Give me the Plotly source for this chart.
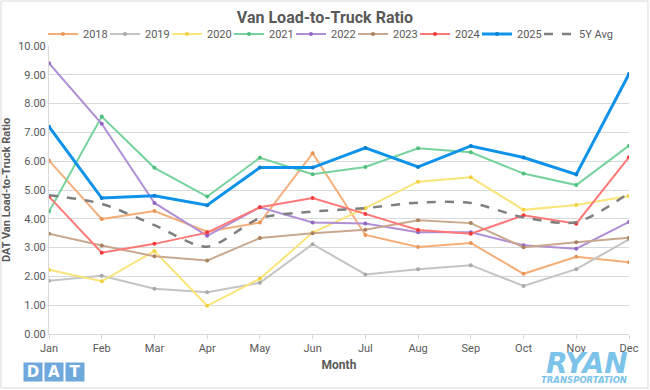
import plotly.graph_objects as go

months = ["Jan", "Feb", "Mar", "Apr", "May", "Jun", "Jul", "Aug", "Sep", "Oct", "Nov", "Dec"]

y2018 = [6.02, 3.99, 4.27, 3.55, 3.87, 6.28, 3.44, 3.02, 3.16, 2.09, 2.68, 2.49]
y2019 = [1.85, 2.02, 1.57, 1.45, 1.78, 3.12, 2.07, 2.25, 2.39, 1.67, 2.25, 3.29]
y2020 = [2.23, 1.83, 2.88, 0.98, 1.92, 3.52, 4.37, 5.29, 5.44, 4.31, 4.48, 4.79]
y2021 = [4.25, 7.55, 5.77, 4.77, 6.12, 5.55, 5.80, 6.45, 6.31, 5.57, 5.17, 6.54]
y2022 = [9.40, 7.30, 4.55, 3.41, 4.40, 3.87, 3.84, 3.53, 3.53, 3.08, 2.96, 3.89]
y2023 = [3.48, 3.07, 2.70, 2.55, 3.33, 3.50, 3.62, 3.95, 3.85, 3.01, 3.19, 3.34]
y2024 = [4.77, 2.82, 3.13, 3.52, 4.40, 4.72, 4.17, 3.61, 3.48, 4.12, 3.83, 6.14]
y2025 = [7.20, 4.72, 4.80, 4.47, 5.78, 5.78, 6.46, 5.80, 6.53, 6.13, 5.54, 9.03]
avg5y = [4.82, 4.52, 3.78, 3.03, 4.02, 4.25, 4.37, 4.56, 4.55, 4.05, 3.88, 4.90]

series = [
    ("2018", y2018, "#f6ae78", "#e8955a", 2),
    ("2019", y2019, "#c4c4c4", "#a8a8a8", 2),
    ("2020", y2020, "#fbe479", "#f2d040", 2),
    ("2021", y2021, "#77d39d", "#4fbf7f", 2),
    ("2022", y2022, "#b08fd6", "#9066c4", 2),
    ("2023", y2023, "#c9a88e", "#a9825f", 2),
    ("2024", y2024, "#ff7878", "#f03c3c", 2),
    ("2025", y2025, "#0f93ea", "#0a7fd0", 3),
]

FONT = "Roboto, sans-serif"
GRAY = "#595959"

fig = go.Figure()
for name, ys, col, mcol, w in series:
    fig.add_trace(go.Scatter(
        x=months, y=ys, name=name, mode="lines+markers",
        line=dict(color=col, width=w),
        marker=dict(color=mcol, size=4, symbol="circle"),
        legendwidth=17,
    ))
fig.add_trace(go.Scatter(
    x=months, y=avg5y, name="5Y Avg", mode="lines",
    line=dict(color="#7f7f7f", width=2.5, dash="dash", shape="spline", smoothing=0.8),
    legendwidth=38,
))

fig.update_layout(
    width=650, height=390,
    margin=dict(l=49, r=21, t=46, b=56, autoexpand=False),
    paper_bgcolor="white", plot_bgcolor="white",
    font=dict(family=FONT, color=GRAY, size=11),
    title=dict(text="<b>Van Load-to-Truck Ratio</b>", x=0.5, xanchor="center",
               y=0.956, yanchor="middle", font=dict(size=16, color=GRAY, family=FONT)),
    legend=dict(orientation="h", x=(43 - 49) / 580, xanchor="left", y=(334 - 34) / 288, yanchor="middle",
                font=dict(size=11, color=GRAY, family=FONT), itemwidth=30,
                tracegroupgap=0, bgcolor="rgba(0,0,0,0)"),
    showlegend=True,
)
fig.update_xaxes(
    type="category", range=[0, 11], showgrid=False,
    showline=True, linecolor="#d9d9d9", linewidth=1,
    ticks="outside", ticklen=4, tickcolor="#d9d9d9",
    tickfont=dict(size=11, color=GRAY, family=FONT),
    title=dict(text="<b>Month</b>", font=dict(size=12, color=GRAY, family=FONT), standoff=6),
)
fig.update_yaxes(
    range=[0, 10], dtick=1, tickformat=".2f",
    showgrid=True, gridcolor="#d9d9d9", gridwidth=1,
    showline=True, linecolor="#d9d9d9", linewidth=1, zeroline=False,
    tickfont=dict(size=11, color=GRAY, family=FONT),
    title=dict(text="<b>DAT Van Load-to-Truck Ratio</b>", font=dict(size=11, color=GRAY, family=FONT), standoff=8),
)

# outer border
fig.add_shape(type="rect", xref="paper", yref="paper",
              x0=(1 - 49) / 580, x1=(648 - 49) / 580,
              y0=(334 - 388) / 288, y1=(334 - 1) / 288,
              line=dict(color="#d9d9d9", width=1), fillcolor="rgba(0,0,0,0)", layer="below")

# DAT logo
for i, ch in enumerate(["D", "A", "T"]):
    cx = 32.5 + i * 21.3
    fig.add_annotation(xref="paper", yref="paper", x=(cx - 49) / 580, y=(334 - 372) / 288,
                       text="<b>%s</b>" % ch, showarrow=False,
                       font=dict(size=15, color="white", family="DejaVu Sans"),
                       bgcolor="#6fa8dc", width=18, height=18, borderpad=0,
                       xanchor="center", yanchor="middle")

# RYAN logo
fig.add_annotation(xref="paper", yref="paper", x=(587 - 49) / 580, y=(334 - 363) / 288,
                   text="<b><i>RYAN</i></b>", showarrow=False,
                   font=dict(size=28, color="#7cc3ea", family="DejaVu Sans"),
                   height=22, xanchor="center", yanchor="middle")
fig.add_annotation(xref="paper", yref="paper", x=(584 - 49) / 580, y=(334 - 380) / 288,
                   text="<b><i>TRANSPORTATION</i></b>", showarrow=False,
                   font=dict(size=8.5, color="#7cc3ea", family="DejaVu Sans"),
                   height=8, xanchor="center", yanchor="middle")

fig.write_html("out.html", config={"displayModeBar": False},
               post_script="document.body.style.margin='0';document.body.style.padding='0';")
